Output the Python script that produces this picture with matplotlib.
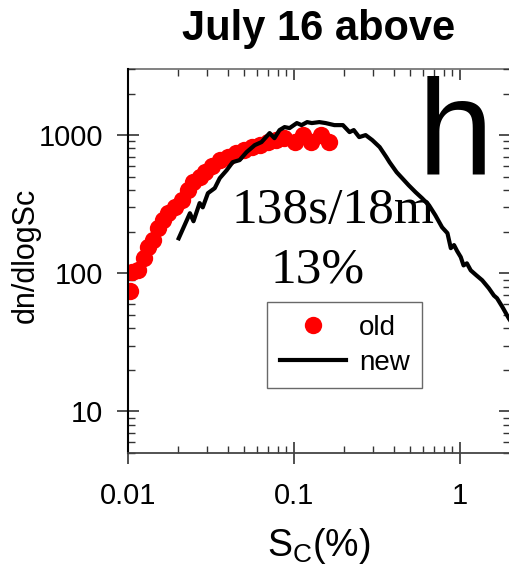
import matplotlib
matplotlib.use("Agg")
import matplotlib.pyplot as plt
from matplotlib.ticker import LogLocator, FixedLocator, FixedFormatter, NullFormatter

# old spectrum (red dots)
old_sc = [0.01028, 0.01057, 0.01148, 0.01248, 0.0132, 0.0141, 0.0151, 0.0162,
          0.0174, 0.0192, 0.0211, 0.0229, 0.0246, 0.0271, 0.029, 0.032, 0.0357,
          0.0399, 0.0445, 0.0497, 0.0556, 0.0621, 0.0693, 0.0774, 0.0865,
          0.1007, 0.1125, 0.1274, 0.146, 0.163]
old_dn = [75, 102, 105, 128, 154, 173, 212, 242, 272, 301, 338, 399, 456, 496,
          540, 596, 659, 693, 741, 779, 819, 846, 890, 920, 951,
          890, 1000, 890, 1000, 890]

# new spectrum (black line)
new_sc = [0.0202, 0.0226, 0.0236, 0.0248, 0.027, 0.0282, 0.0303, 0.0333, 0.0357,
          0.0393, 0.0427, 0.047, 0.0518, 0.058, 0.0637, 0.0713, 0.0762, 0.0818,
          0.0877, 0.094, 0.104, 0.111, 0.12, 0.128, 0.142, 0.155, 0.175, 0.197,
          0.216, 0.229, 0.247, 0.27, 0.296, 0.328, 0.36, 0.376, 0.415, 0.448,
          0.49, 0.54, 0.59, 0.65, 0.71, 0.78, 0.84, 0.88, 0.92, 0.96,
          1.01, 1.05, 1.10, 1.16, 1.25, 1.36, 1.49, 1.60, 1.67, 1.8, 1.97, 2.1]
new_dn = [179, 242, 272, 238, 322, 300, 380, 413, 488,
          557, 637, 659, 753, 846, 890, 1034, 950, 1087,
          1143, 1124, 1222, 1181, 1242, 1222, 1242, 1222, 1181, 1181,
          1051, 1087, 967, 1000, 920, 819, 693, 637, 539, 488,
          434, 386, 350, 311, 263, 215, 195, 152, 160, 145,
          131, 114, 118, 105, 97, 89, 78, 69, 66, 57, 47, 42]

x_ticks = [0.01, 0.1, 1]
x_labels = ["0.01", "0.1", "1"]
y_ticks = [10, 100, 1000]
y_labels = ["10", "100", "1000"]

plt.rcParams["font.family"] = ["Liberation Sans", "DejaVu Sans"]

fig = plt.figure(figsize=(5.10, 5.67), dpi=100)
ax = fig.add_axes([0.251, 0.201, 0.749, 0.677])

ax.plot(old_sc, old_dn, "o", color="red", markersize=12.5, markeredgewidth=0,
        label="old", zorder=2)
ax.plot(new_sc, new_dn, "-", color="black", linewidth=3.0, label="new", zorder=3)

ax.set_xscale("log")
ax.set_yscale("log")
ax.set_xlim(0.01, 2.0)
ax.set_ylim(5, 3000)

ax.xaxis.set_major_locator(FixedLocator(x_ticks))
ax.xaxis.set_major_formatter(FixedFormatter(x_labels))
ax.yaxis.set_major_locator(FixedLocator(y_ticks))
ax.yaxis.set_major_formatter(FixedFormatter(y_labels))
for a in (ax.xaxis, ax.yaxis):
    a.set_minor_locator(LogLocator(base=10, subs=range(2, 10)))
    a.set_minor_formatter(NullFormatter())

ax.tick_params(which="major", direction="inout", length=16, width=1.2,
               labelsize=21, color="#333333")
ax.tick_params(axis="x", which="major", pad=13)
ax.tick_params(axis="y", which="major", pad=10)
ax.tick_params(which="minor", direction="in", length=5, width=1, color="#333333")

# inward ticks on top and right
top = ax.secondary_xaxis("top")
top.xaxis.set_major_locator(FixedLocator(x_ticks))
top.xaxis.set_minor_locator(LogLocator(base=10, subs=range(2, 10)))
top.xaxis.set_major_formatter(NullFormatter())
top.xaxis.set_minor_formatter(NullFormatter())
top.tick_params(which="major", direction="in", length=8, width=1.2, color="#333333")
top.tick_params(which="minor", direction="in", length=5, width=1, color="#333333")
top.spines["top"].set_color("#777777")
top.spines["top"].set_linewidth(1.3)

right = ax.secondary_yaxis("right")
right.yaxis.set_major_locator(FixedLocator(y_ticks))
right.yaxis.set_minor_locator(LogLocator(base=10, subs=range(2, 10)))
right.yaxis.set_major_formatter(NullFormatter())
right.yaxis.set_minor_formatter(NullFormatter())
right.tick_params(which="major", direction="in", length=8, width=1.2, color="#333333")
right.tick_params(which="minor", direction="in", length=5, width=1, color="#333333")

ax.spines["top"].set_visible(False)
ax.spines["right"].set_visible(False)
ax.spines["left"].set_color("black")
ax.spines["left"].set_linewidth(1.5)
ax.spines["bottom"].set_color("#444444")
ax.spines["bottom"].set_linewidth(1.3)

ax.set_title("July 16 above", fontsize=30, fontweight="bold", pad=21)
ax.set_xlabel(r"S$_\mathregular{C}$(%)", fontsize=27)
ax.xaxis.set_label_coords(0.5, -0.19)
ax.set_ylabel("dn/dlogSc", fontsize=22)
ax.yaxis.set_label_coords(-0.228, 0.516)

ax.text(0.537, 0.599, "138s/18m", transform=ax.transAxes, ha="center",
        va="baseline", fontsize=37, family=["Liberation Serif", "DejaVu Serif"])
ax.text(0.495, 0.443, "13%", transform=ax.transAxes, ha="center",
        va="baseline", fontsize=37, family=["Liberation Serif", "DejaVu Serif"])
ax.text(0.856, 0.729, "h", transform=ax.transAxes, ha="center",
        va="baseline", fontsize=98)

leg = ax.legend(loc="upper left", bbox_to_anchor=(0.364, 0.393), fontsize=20,
                frameon=True, fancybox=False, handlelength=2.4,
                handletextpad=0.45, borderpad=0.45, labelspacing=0.32,
                borderaxespad=0, markerscale=1.0)
leg.get_frame().set_edgecolor("#444444")
leg.get_frame().set_linewidth(1.0)

fig.savefig("out.png", dpi=100)
